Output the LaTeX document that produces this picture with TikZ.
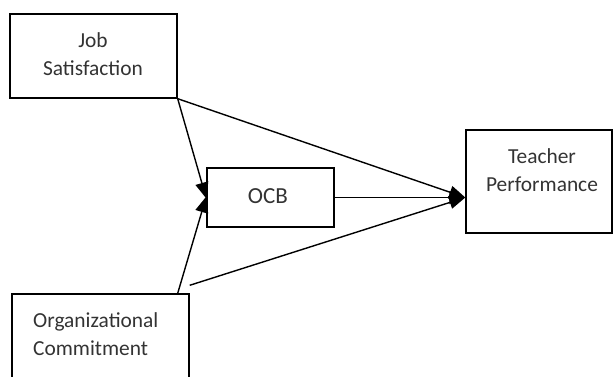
\documentclass[tikz,border=0pt]{standalone}
\usepackage{fontspec}
\setmainfont{Carlito}
\usetikzlibrary{arrows.meta,calc}
\begin{document}
\begin{tikzpicture}[x=1pt,y=-1pt,
  box/.style={draw,line width=1.4pt,inner sep=0pt},
  lbl/.style={font=\fontsize{21.4}{28}\selectfont,text=black!80,align=center,inner sep=0pt},
  conn/.style={line width=1.4pt,-{Triangle[length=16pt,width=13pt]}},
  plain/.style={line width=1.4pt}]
\useasboundingbox (0,0) rectangle (614,376);
\begin{scope}
\clip (0,0) rectangle (614,376);
\node[box,minimum width=167pt,minimum height=84pt] (JS) at (93.5,56) {};
\node[box,minimum width=127pt,minimum height=59pt] (OCB) at (270.5,197.5) {};
\node[box,minimum width=146pt,minimum height=103pt] (TP) at (539,181.5) {};
\node[box,minimum width=177pt,minimum height=100pt] (OC) at (100.5,344) {};
\end{scope}
\node[lbl] (tJS) at (93,54) {Job\\Satisfaction};
\node[lbl,font=\fontsize{23}{28}\selectfont] (tOCB) at (268,196) {OCB};
\node[lbl,align=left,anchor=west] (tOC) at (33,334) {Organizational\\Commitment};
\node[lbl] (tTP) at (542,170) {Teacher\\Performance};
\coordinate (tip) at (TP.west |- OCB.east);
\draw[conn] (JS.south east) -- ([yshift=-1pt]OCB.west);
\draw[conn] ([xshift=-12pt]OC.north east) -- ([yshift=1pt]OCB.west);
\draw[conn] (JS.south east) -- (tip);
\draw[conn] (OCB.east) -- (tip);
\draw[conn] ([yshift=8pt]OC.north east) -- (tip);
\end{tikzpicture}
\end{document}
